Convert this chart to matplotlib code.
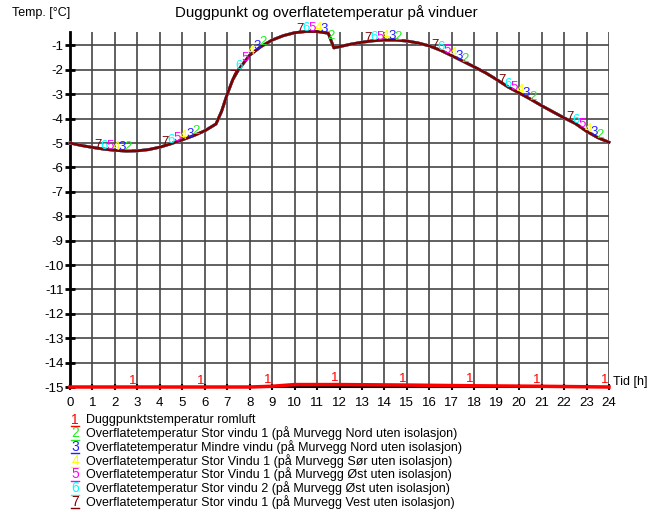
import numpy as np
import matplotlib
matplotlib.use("Agg")
import matplotlib.pyplot as plt
from matplotlib.lines import Line2D

plt.rcParams['font.family'] = ['Liberation Sans', 'DejaVu Sans']
plt.rcParams['axes.unicode_minus'] = False

# surface temperature, all six windows practically identical
hours = [0, 0.5, 1, 1.5, 2, 2.5, 3, 3.5, 4, 4.5, 5, 5.5, 6, 6.5, 6.75, 7, 7.25,
         7.5, 8, 8.5, 9, 9.5, 10, 10.5, 11, 11.5, 11.75, 12, 12.5, 13, 13.5, 14,
         14.5, 15, 15.5, 16, 16.5, 17, 17.5, 18, 18.5, 19, 19.5, 20, 20.5, 21,
         21.5, 22, 22.5, 23, 23.5, 24]
surface = [-5.0, -5.1, -5.18, -5.25, -5.3, -5.33, -5.32, -5.27, -5.17, -5.03,
           -4.87, -4.7, -4.5, -4.22, -3.7, -3.0, -2.4, -2.0, -1.4, -1.05, -0.78,
           -0.6, -0.48, -0.43, -0.43, -0.5, -1.1, -1.05, -0.95, -0.87, -0.81,
           -0.78, -0.78, -0.82, -0.9, -1.02, -1.2, -1.42, -1.65, -1.88, -2.12,
           -2.4, -2.7, -2.95, -3.2, -3.47, -3.72, -3.97, -4.2, -4.52, -4.78, -4.97]

dew_hours = [0, 8, 9, 10, 12, 15, 18, 21, 24]
dew_point = [-15.0, -15.0, -14.97, -14.9, -14.9, -14.92, -14.95, -14.97, -15.0]

series_names = [
    "Duggpunktstemperatur romluft",
    "Overflatetemperatur Stor vindu 1 (på Murvegg Nord uten isolasjon)",
    "Overflatetemperatur Mindre vindu (på Murvegg Nord uten isolasjon)",
    "Overflatetemperatur Stor Vindu 1 (på Murvegg Sør uten isolasjon)",
    "Overflatetemperatur Stor Vindu 1 (på Murvegg Øst uten isolasjon)",
    "Overflatetemperatur Stor vindu 2 (på Murvegg Øst uten isolasjon)",
    "Overflatetemperatur Stor vindu 1 (på Murvegg Vest uten isolasjon)",
]
series_colors = ['#ff0000', '#22ee22', '#2222ff', '#ffff00', '#ff00ff', '#00ffff', '#800000']

fig = plt.figure(figsize=(6.48, 5.12), dpi=100)
ax = fig.add_axes([70 / 648, 1 - 387 / 512, 539 / 648, 355 / 512])

ax.set_xlim(0, 24)
ax.set_ylim(-15, -0.45)
ax.set_xticks(range(0, 25))
ax.set_yticks(range(-15, 0))
ax.grid(True, color='#454545', lw=1.2)
ax.set_axisbelow(True)
for s in ['top', 'right']:
    ax.spines[s].set_visible(False)
ax.spines['left'].set_linewidth(2)
ax.spines['bottom'].set_linewidth(1.5)
ax.tick_params(axis='y', direction='inout', length=7, width=2, labelsize=9.5, pad=1)
ax.tick_params(axis='x', direction='inout', length=5, width=1.5, labelsize=9.5, pad=5)

# dew point line
ax.plot(dew_hours, dew_point, color=series_colors[0], lw=2.5, clip_on=False, zorder=5)
for k in range(8):
    x = 2.8 + 3 * k
    ax.text(x, np.interp(x, dew_hours, dew_point) + 0.02, "1", color=series_colors[0],
            fontsize=9.5, ha='center', va='bottom', zorder=6)

# surface lines
for n in range(2, 8):
    ax.plot(hours, surface, color=series_colors[n - 1], lw=2, clip_on=False, zorder=4)
for k in range(8):
    for n in range(2, 8):
        x = 2.6 + 3 * k - (n - 2) * 0.27
        ax.text(x, np.interp(x, hours, surface) - 0.1, str(n), color=series_colors[n - 1],
                fontsize=9.5, ha='center', va='bottom', zorder=6)

fig.text(326 / 648, 1 - 13 / 512, "Duggpunkt og overflatetemperatur på vinduer",
         ha='center', va='center', fontsize=10.8)
fig.text(12 / 648, 1 - 13 / 512, "Temp. [°C]", ha='left', va='center', fontsize=9)
fig.text(613 / 648, 1 - 382 / 512, "Tid [h]", ha='left', va='center', fontsize=9)

# legend
for i, (name, col) in enumerate(zip(series_names, series_colors)):
    yc = 1 - (419.5 + i * 13.7) / 512
    fig.text(75 / 648, yc, str(i + 1), color=col, ha='center', va='center', fontsize=10)
    yl = yc - 6.5 / 512
    fig.add_artist(Line2D([71 / 648, 79 / 648], [yl, yl], color=col, lw=1))
    fig.text(86 / 648, yc, name, color='black', ha='left', va='center', fontsize=9)

fig.savefig("out.png", dpi=100)
